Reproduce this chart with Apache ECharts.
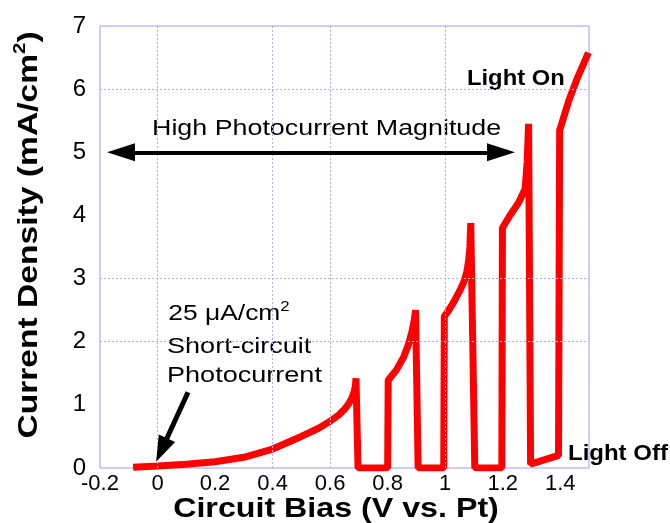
<!DOCTYPE html>
<html>
<head>
<meta charset="utf-8">
<script src="https://cdn.jsdelivr.net/npm/echarts@6/dist/echarts.min.js"></script>
<style>
  html, body { margin: 0; padding: 0; background: #fff; }
  #Chart { width: 670px; height: 523px; }
</style>
</head>
<body>
<div id="Chart"></div>
<script>
// bias sweep (V vs. Pt) and measured current density (mA/cm2), chopped light
var biasV = [-0.085, 0, 0.1, 0.2, 0.3, 0.4, 0.5, 0.56, 0.6, 0.63, 0.65, 0.665, 0.675, 0.683, 0.688, 0.69, 0.697,
  0.8, 0.802, 0.83, 0.855, 0.872, 0.884, 0.892, 0.897, 0.906,
  0.995, 0.997, 1.01, 1.03, 1.05, 1.065, 1.075, 1.082, 1.086, 1.089, 1.103,
  1.197, 1.199, 1.225, 1.255, 1.278, 1.285, 1.29, 1.297,
  1.394, 1.398, 1.405, 1.43, 1.46, 1.498]
var currentDensity = [0.01, 0.03, 0.06, 0.1, 0.17, 0.3, 0.5, 0.63, 0.74, 0.84, 0.93, 1.02, 1.1, 1.2, 1.3, 1.42, 0,
  0, 1.39, 1.55, 1.75, 1.95, 2.15, 2.33, 2.5, 0,
  0, 2.4, 2.48, 2.63, 2.8, 2.95, 3.1, 3.3, 3.5, 3.88, 0,
  0, 3.8, 4.0, 4.2, 4.42, 4.85, 5.45, 0.06,
  0.2, 5.35, 5.45, 5.82, 6.18, 6.58]

// axis ticks
var xRange = [-0.2, 1.5]
var yTicks = [0, 1, 2, 3, 4, 5, 6, 7]
// the original only has a few dotted grid lines
var xGridAt = [0, 0.4, 0.6, 1.0]
var yGridAt = [2, 3, 6]

var points = biasV.map(function (v, i) { return [v, currentDensity[i]] })

var FONT = "'Liberation Sans', Arial, Helvetica, sans-serif"
var gridStyle = { color: '#aeaef2', width: 1, type: [2, 2] }

var marks = []
xGridAt.forEach(function (v) { marks.push({ xAxis: v, lineStyle: gridStyle }) })
yGridAt.forEach(function (v) { marks.push({ yAxis: v, lineStyle: gridStyle }) })
// double arrow "High Photocurrent Magnitude"
marks.push([
  { coord: [-0.127, 5], symbol: 'triangle', symbolSize: [18, 28], lineStyle: { color: '#000', width: 4, type: 'solid' } },
  { coord: [1.194, 5], symbol: 'triangle', symbolSize: [18, 28] }
])
// arrow to the short-circuit point
marks.push([
  { coord: [0.106, 1.2], symbol: 'none', lineStyle: { color: '#000', width: 5, type: 'solid' } },
  { coord: [0.014, 0.285], symbol: 'triangle', symbolSize: [18, 26] }
])

// text with a raised "2"
function supText(main, tail, size, bold) {
  var w = bold ? 'bold ' : ''
  return {
    text: '{m|' + main + '}{s|2}' + (tail ? '{m|' + tail + '}' : ''),
    fill: '#000', align: 'center', verticalAlign: 'middle',
    rich: {
      m: { font: w + size + 'px ' + FONT, lineHeight: size + 6, fill: '#000' },
      s: { font: w + Math.round(size * 0.62) + 'px ' + FONT, verticalAlign: 'top', lineHeight: Math.round(size * 0.62), fill: '#000' }
    }
  }
}

var Chart = echarts.init(document.getElementById('Chart'))
Chart.setOption({
  animation: false,
  backgroundColor: '#fff',
  grid: {
    left: 100, right: 81, top: 26, bottom: 55,
    show: true, borderColor: '#9d9df0', borderWidth: 1
  },
  xAxis: {
    type: 'value',
    min: xRange[0], max: xRange[1], interval: 0.2,
    axisLine: { show: false },
    axisTick: { show: false },
    splitLine: { show: false },
    axisLabel: {
      showMaxLabel: false,
      margin: 5,
      color: '#000',
      fontFamily: FONT,
      fontSize: 22,
      formatter: function (v) { return String(+v.toFixed(1)) }
    }
  },
  yAxis: {
    type: 'value',
    min: yTicks[0], max: yTicks[yTicks.length - 1], interval: 1,
    axisLine: { show: false },
    axisTick: { show: false },
    splitLine: { show: false },
    axisLabel: { margin: 14, color: '#000', fontFamily: FONT, fontSize: 24 }
  },
  series: [
    {
      // grid lines + annotation arrows
      type: 'line',
      data: [],
      z: 1,
      silent: true,
      markLine: {
        silent: true,
        symbol: 'none',
        label: { show: false },
        emphasis: { disabled: true },
        data: marks
      }
    },
    {
      type: 'line',
      data: points,
      z: 3,
      showSymbol: false,
      lineStyle: { color: '#ff0000', width: 7 }
    }
  ],
  graphic: [
    { type: 'text', x: 152, y: 129, scaleX: 1.22,
      style: { text: 'High Photocurrent Magnitude', font: '22px ' + FONT, fill: '#000', align: 'left', verticalAlign: 'middle' } },
    { type: 'text', x: 467, y: 79, scaleX: 1.08,
      style: { text: 'Light On', font: 'bold 22px ' + FONT, fill: '#000', align: 'left', verticalAlign: 'middle' } },
    { type: 'text', x: 568, y: 454, scaleX: 1.09,
      style: { text: 'Light Off', font: 'bold 22px ' + FONT, fill: '#000', align: 'left', verticalAlign: 'middle' } },
    { type: 'text', x: 229, y: 314, scaleX: 1.2,
      style: supText('25 \u03bcA/cm', '', 22, false) },
    { type: 'text', x: 167, y: 347, scaleX: 1.23,
      style: { text: 'Short-circuit', font: '22px ' + FONT, fill: '#000', align: 'left', verticalAlign: 'middle' } },
    { type: 'text', x: 167, y: 376, scaleX: 1.23,
      style: { text: 'Photocurrent', font: '22px ' + FONT, fill: '#000', align: 'left', verticalAlign: 'middle' } },
    // axis titles
    { type: 'text', x: 336, y: 509, scaleX: 1.15,
      style: { text: 'Circuit Bias (V vs. Pt)', font: 'bold 28px ' + FONT, fill: '#000', align: 'center', verticalAlign: 'middle' } },
    { type: 'text', x: 29, y: 235, rotation: Math.PI / 2, scaleX: 1.2,
      style: supText('Current Density (mA/cm', ')', 28, true) }
  ]
})
</script>
</body>
</html>
